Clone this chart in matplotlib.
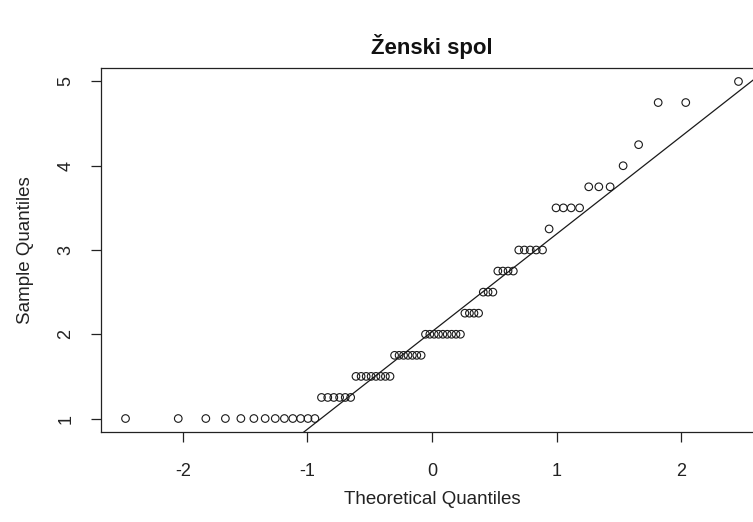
import numpy as np
import matplotlib
matplotlib.use("Agg")
import matplotlib.pyplot as plt
from statistics import NormalDist

plt.rcParams['font.family'] = ['Liberation Sans', 'DejaVu Sans']
plt.rcParams['axes.unicode_minus'] = False

# Sample values (distinct levels) and how many observations at each level
levels = [1.0, 1.25, 1.5, 1.75, 2.0, 2.25, 2.5, 2.75, 3.0, 3.25, 3.5, 3.75, 4.0, 4.25, 4.75, 5.0]
counts = [13, 6, 8, 7, 9, 4, 3, 4, 5, 1, 4, 3, 1, 1, 2, 1]

title = "Ženski spol"
xlabel = "Theoretical Quantiles"
ylabel = "Sample Quantiles"
xticks = [-2, -1, 0, 1, 2]
yticks = [1, 2, 3, 4, 5]

sample = np.sort(np.repeat(levels, counts))
n = len(sample)
a = 3 / 8 if n <= 10 else 0.5
pp = (np.arange(1, n + 1) - a) / (n + 1 - 2 * a)
nd = NormalDist()
theo = np.array([nd.inv_cdf(p) for p in pp])

# qqline through the 1st and 3rd quartiles
yq = np.percentile(sample, [25, 75])
xq = np.array([nd.inv_cdf(0.25), nd.inv_cdf(0.75)])
slope = (yq[1] - yq[0]) / (xq[1] - xq[0])
intercept = yq[0] - slope * xq[0]

fig = plt.figure(figsize=(7.53, 5.22), dpi=100)
W, H = 753, 522
left, right, top, bottom = 101, 763, 68, 432
ax = fig.add_axes([left / W, 1 - bottom / H, (right - left) / W, (bottom - top) / H])

ax.scatter(theo, sample, s=30, facecolors='none', edgecolors='#1a1a1a', linewidths=0.8, zorder=3)
xr = np.array([-3.5, 3.5])
ax.plot(xr, intercept + slope * xr, color='#1a1a1a', linewidth=0.9)

dx = (theo.max() - theo.min()) * 0.04
dy = (sample.max() - sample.min()) * 0.04
ax.set_xlim(theo.min() - dx, theo.max() + dx)
ax.set_ylim(sample.min() - dy, sample.max() + dy)

ax.set_xticks(xticks)
ax.set_yticks(yticks)
ax.tick_params(axis='both', direction='out', length=7, width=0.9, labelsize=13, colors='#222222')
ax.tick_params(axis='x', pad=15)
ax.tick_params(axis='y', pad=12)
for lab in ax.get_yticklabels():
    lab.set_rotation(90)
    lab.set_va('center')
for s in ax.spines.values():
    s.set_linewidth(0.9)
    s.set_color('#222222')

ax.set_title(title, fontsize=16, fontweight='bold', pad=10, color='#111111')
ax.set_xlabel(xlabel, fontsize=13.5, labelpad=8, color='#222222')
ax.set_ylabel(ylabel, fontsize=13.5, labelpad=17, color='#222222')

fig.savefig("out.png", dpi=100)
